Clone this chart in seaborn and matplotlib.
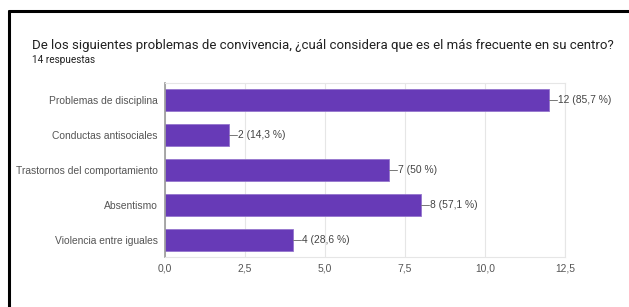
import matplotlib
matplotlib.use("Agg")
import matplotlib.pyplot as plt
import pandas as pd
import seaborn as sns
from matplotlib.lines import Line2D

# data
categorias = ["Problemas de disciplina", "Conductas antisociales",
              "Trastornos del comportamiento", "Absentismo",
              "Violencia entre iguales"]
respuestas = [12, 2, 7, 8, 4]
porcentajes = ["85,7", "14,3", "50", "57,1", "28,6"]
ticks_x = [0, 2.5, 5, 7.5, 10, 12.5]
total = 14

sns.set_theme(style="white")
plt.rcParams["font.family"] = ["Liberation Sans", "DejaVu Sans"]

df = pd.DataFrame({"categoria": categorias, "n": respuestas})

fig = plt.figure(figsize=(6.29, 3.07), dpi=100)
ax = fig.add_axes([0.262, 0.163, 0.636, 0.567])

sns.barplot(data=df, y="categoria", x="n", color="#673ab7", saturation=1,
            width=0.63, edgecolor="#9575cd", linewidth=0.6, ax=ax)

ax.set_xlim(0, 12.5)
ax.set_ylim(4.5, -0.5)
ax.set_xticks(ticks_x)
ax.set_xticklabels([f"{t:.1f}".replace(".", ",") for t in ticks_x])
ax.set_xlabel("")
ax.set_ylabel("")
ax.tick_params(axis="both", labelsize=7.4, colors="#555555", length=0, pad=5)
ax.grid(axis="x", color="#e6e6e6", linewidth=0.8)
ax.set_axisbelow(True)
for s in ["top", "right", "bottom"]:
    ax.spines[s].set_color("#e6e6e6")
    ax.spines[s].set_linewidth(0.8)
ax.spines["left"].set_color("#999999")
ax.spines["left"].set_linewidth(1.2)

# value labels with leader line
for i, (v, p) in enumerate(zip(respuestas, porcentajes)):
    ax.plot([v, v + 0.27], [i, i], color="#777777", linewidth=0.7, clip_on=False)
    ax.text(v + 0.29, i, f"{v} ({p} %)", va="center", ha="left",
            fontsize=7.4, color="#444444", clip_on=False)

fig.text(32 / 629, 1 - 45 / 307,
         "De los siguientes problemas de convivencia, ¿cuál considera que es el más frecuente en su centro?",
         fontsize=9.5, color="#212121", va="center", ha="left",
         family=["Roboto", "DejaVu Sans"])
fig.text(32 / 629, 1 - 60 / 307, f"{total} respuestas", fontsize=7.2,
         color="#212121", va="center", ha="left",
         family=["Roboto", "DejaVu Sans"])

# black screenshot frame on top and left
fig.add_artist(Line2D([9 / 629, 1], [1 - 11 / 307] * 2, color="black", linewidth=2.2))
fig.add_artist(Line2D([9 / 629] * 2, [0, 1 - 11 / 307], color="black", linewidth=2.2))

fig.savefig("out.png", dpi=100)
